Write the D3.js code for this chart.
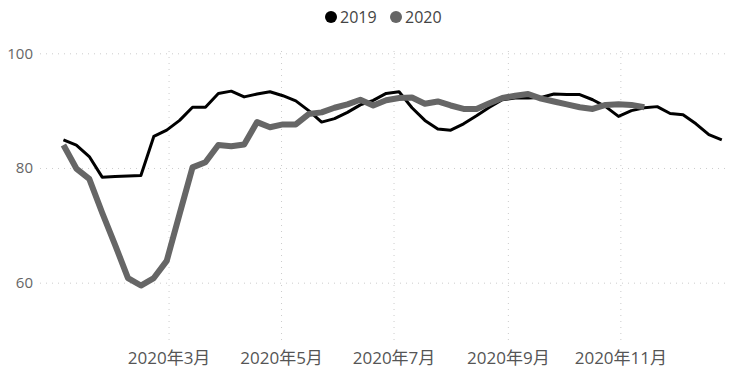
<!DOCTYPE html>
<html>
<head>
<meta charset="utf-8">
<script src="https://cdn.jsdelivr.net/npm/d3@7"></script>
<style>
  body { margin: 0; background: #fff; }
  text { font-family: "Open Sans", "Noto Sans CJK SC", sans-serif; }
</style>
</head>
<body>
<svg id="chart"></svg>
<script>
// weekly index, 2019 drawn on the 2020 calendar
const firstWeek = "2020-01-04";
const series2019 = [84.9, 84.0, 82.0, 78.4, 78.5, 78.6, 78.7, 85.5, 86.6, 88.3,
  90.6, 90.6, 93.0, 93.4, 92.4, 92.9, 93.3, 92.6, 91.7, 90.0,
  88.0, 88.6, 89.7, 91.0, 91.8, 93.0, 93.3, 90.5, 88.3, 86.8,
  86.6, 87.7, 89.1, 90.6, 91.9, 92.2, 92.2, 92.3, 92.9, 92.8,
  92.8, 91.9, 90.7, 89.0, 90.0, 90.5, 90.7, 89.5, 89.3, 87.7,
  85.8, 84.9];
const series2020 = [84.0, 79.9, 78.1, 72.2, 66.6, 60.8, 59.5, 60.8, 63.8, 72.0,
  80.1, 81.0, 84.0, 83.8, 84.1, 88.0, 87.1, 87.6, 87.6, 89.4,
  89.7, 90.5, 91.1, 91.9, 90.9, 91.8, 92.2, 92.3, 91.2, 91.6,
  90.9, 90.3, 90.3, 91.3, 92.2, 92.6, 92.9, 92.1, 91.6, 91.1,
  90.6, 90.3, 91.0, 91.1, 91.0, 90.6];
const tickDates = ["2020-03-01", "2020-05-01", "2020-07-01", "2020-09-01", "2020-11-01"];
const tickLabels = ["2020年3月", "2020年5月", "2020年7月", "2020年9月", "2020年11月"];
const yTicks = [60, 80, 100];
const legendNames = ["2019", "2020"];
const colors = ["#000000", "#666666"];

const width = 749, height = 381;
const svg = d3.select("#chart").attr("width", width).attr("height", height);

const parse = d3.utcParse("%Y-%m-%d");
const start = parse(firstWeek);
const weekDate = (i) => d3.utcDay.offset(start, 7 * i);

const x = d3.scaleUtc()
  .domain([parse("2019-12-25"), parse("2020-12-31")])
  .range([45, 731]);
const y = d3.scaleLinear().domain([50, 100]).range([340, 53.3]);

// horizontal grid + y labels
const yAxis = svg.append("g")
  .attr("transform", "translate(45,0)")
  .call(d3.axisLeft(y).tickValues(yTicks).tickSize(-686).tickPadding(12));
yAxis.select(".domain").remove();
yAxis.selectAll("line")
  .attr("stroke", "#cccccc").attr("stroke-dasharray", "1,5").attr("x1", 0).attr("x2", 686)
  .attr("transform", "translate(-5,0)");
yAxis.selectAll("text")
  .attr("fill", "#666").style("font-size", "15px").attr("x", -12);

// vertical grid + x labels
const xAxis = svg.append("g")
  .attr("transform", "translate(0,340)")
  .call(d3.axisBottom(x)
    .tickValues(tickDates.map(parse))
    .tickFormat((d, i) => tickLabels[i])
    .tickSize(-292).tickPadding(12));
xAxis.select(".domain").remove();
xAxis.selectAll("line")
  .attr("stroke", "#cccccc").attr("stroke-dasharray", "1,5");
xAxis.selectAll("text")
  .attr("fill", "#555").style("font-size", "17px");

const line = d3.line()
  .x((d, i) => x(weekDate(i)))
  .y((d) => y(d))
  .curve(d3.curveLinear);

svg.append("path")
  .datum(series2019)
  .attr("fill", "none")
  .attr("stroke", colors[0])
  .attr("stroke-width", 3)
  .attr("stroke-linejoin", "round")
  .attr("d", line);

svg.append("path")
  .datum(series2020)
  .attr("fill", "none")
  .attr("stroke", colors[1])
  .attr("stroke-width", 6)
  .attr("stroke-linejoin", "round")
  .attr("d", line);

// legend
const legend = svg.append("g");
const legendX = [331, 396];
legendNames.forEach((name, i) => {
  legend.append("circle")
    .attr("cx", legendX[i]).attr("cy", 17).attr("r", 6)
    .attr("fill", colors[i]);
  legend.append("text")
    .attr("x", legendX[i] + 9).attr("y", 23)
    .attr("fill", "#444").style("font-size", "16px")
    .text(name);
});
</script>
</body>
</html>
